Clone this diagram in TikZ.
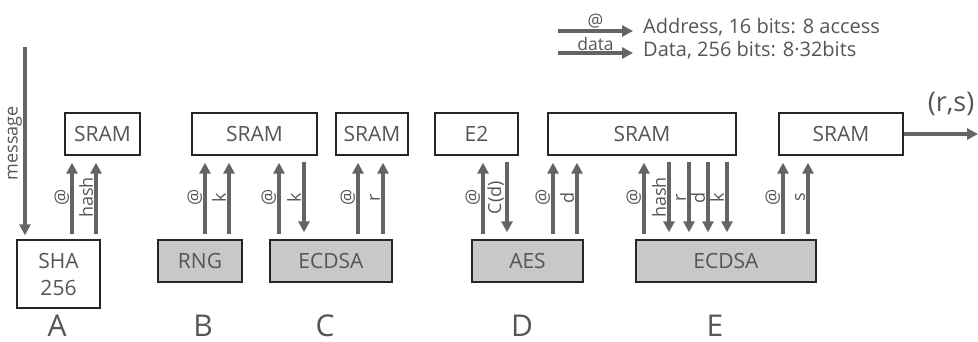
\documentclass[tikz,border=0pt]{standalone}
\usepackage{fontspec}
\setmainfont{Open Sans}
\usetikzlibrary{arrows.meta}
\definecolor{arrgray}{RGB}{100,100,100}
\definecolor{txt}{RGB}{85,85,85}
\definecolor{boxgray}{RGB}{200,200,200}
\begin{document}
\begin{tikzpicture}[x=1pt,y=-1pt,
  box/.style={draw=black!85, line width=1.4pt, inner sep=0pt, text=txt, font=\fontsize{21}{27}\selectfont, minimum height=42pt},
  gbox/.style={box, fill=boxgray},
  arr/.style={draw=arrgray, line width=3.1pt, -{Triangle[width=11pt,length=11pt]}},
  vup/.style={arr, shorten <=5pt, shorten >=7pt},
  vdown/.style={arr, shorten <=6pt, shorten >=7pt},
  lbl/.style={rotate=90, anchor=south, inner sep=1.5pt, text=txt, font=\fontsize{18}{20}\selectfont},
  letter/.style={text=txt, font=\fontsize{30}{32}\selectfont, inner sep=0pt},
  legtxt/.style={text=txt, font=\fontsize{20}{22}\selectfont, anchor=west, inner sep=0pt},
  leglbl/.style={text=txt, font=\fontsize{17.5}{19}\selectfont, inner sep=0pt}
]
\useasboundingbox (0,0) rectangle (978,342);

% upper boxes
\node[box, minimum width=75pt]  (sramA) at (102.5,134) {SRAM};
\node[box, minimum width=125pt] (sramB) at (254.5,134) {SRAM};
\node[box, minimum width=72pt]  (sramC) at (372,134) {SRAM};
\node[box, minimum width=83pt]  (e2)    at (476.5,134) {E2};
\node[box, minimum width=188pt] (sramD) at (642,134) {SRAM};
\node[box, minimum width=124pt] (sramE) at (841,134) {SRAM};

% lower boxes
\node[box, minimum width=83pt, minimum height=68pt, align=center] (sha) at (58.5,274) {SHA\\256};
\node[gbox, minimum width=84pt]  (rng)    at (200,261) {RNG};
\node[gbox, minimum width=122pt] (ecdsaC) at (331,261) {ECDSA};
\node[gbox, minimum width=111pt] (aes)    at (527.5,261) {AES};
\node[gbox, minimum width=180pt] (ecdsaE) at (726,261) {ECDSA};

% message
\coordinate (msgtop) at (25,47);
\draw[arr, shorten >=4pt] (msgtop) -- node[lbl]{message} (sha.north -| 25,0);

% A
\draw[vup] (sha.north -| 72,0) -- node[lbl]{@} (sramA.south -| 72,0);
\draw[vup] (sha.north -| 96,0) -- node[lbl]{hash} (sramA.south -| 96,0);

% B
\draw[vup] (rng.north -| 205,0) -- node[lbl]{@} (sramB.south -| 205,0);
\draw[vup] (rng.north -| 229,0) -- node[lbl]{k} (sramB.south -| 229,0);

% C
\draw[vup] (ecdsaC.north -| 279,0) -- node[lbl]{@} (sramB.south -| 279,0);
\draw[vdown] (sramB.south -| 304,0) -- node[lbl]{k} (ecdsaC.north -| 304,0);
\draw[vup] (ecdsaC.north -| 358,0) -- node[lbl]{@} (sramC.south -| 358,0);
\draw[vup] (ecdsaC.north -| 383,0) -- node[lbl]{r} (sramC.south -| 383,0);

% D
\draw[vup] (aes.north -| 483,0) -- node[lbl]{@} (e2.south -| 483,0);
\draw[vdown] (e2.south -| 507,0) -- node[lbl]{C(d)} (aes.north -| 507,0);
\draw[vup] (aes.north -| 553,0) -- node[lbl]{@} (sramD.south -| 553,0);
\draw[vup] (aes.north -| 577,0) -- node[lbl]{d} (sramD.south -| 577,0);

% E
\draw[vup] (ecdsaE.north -| 644,0) -- node[lbl]{@} (sramD.south -| 644,0);
\draw[vdown] (sramD.south -| 669,0) -- node[lbl]{hash} (ecdsaE.north -| 669,0);
\draw[vdown] (sramD.south -| 689,0) -- node[lbl]{r} (ecdsaE.north -| 689,0);
\draw[vdown] (sramD.south -| 708,0) -- node[lbl]{d} (ecdsaE.north -| 708,0);
\draw[vdown] (sramD.south -| 727,0) -- node[lbl]{k} (ecdsaE.north -| 727,0);
\draw[vup] (ecdsaE.north -| 783,0) -- node[lbl]{@} (sramE.south -| 783,0);
\draw[vup] (ecdsaE.north -| 808,0) -- node[lbl]{s} (sramE.south -| 808,0);

% output
\coordinate (out) at (978,134);
\draw[arr] (sramE.east) -- (out);
\node[text=txt, font=\fontsize{27}{30}\selectfont, inner sep=0pt] (rs) at (951,104) {(r,s)};

% letters
\node[letter] (lA) at (57,326) {A};
\node[letter] (lB) at (203,326) {B};
\node[letter] (lC) at (325,326) {C};
\node[letter] (lD) at (522,326) {D};
\node[letter] (lE) at (715,326) {E};

% legend
\coordinate (la1) at (558,31);
\coordinate (lb1) at (633,31);
\coordinate (la2) at (558,53);
\coordinate (lb2) at (633,53);
\draw[arr] (la1) -- node[leglbl, above=1pt]{@} (lb1);
\draw[arr] (la2) -- node[leglbl, above=1pt]{data} (lb2);
\node[legtxt] (t1) at (643,27) {Address, 16 bits: 8 access};
\node[legtxt] (t2) at (643,50) {Data, 256 bits: 8·32bits};
\end{tikzpicture}
\end{document}
